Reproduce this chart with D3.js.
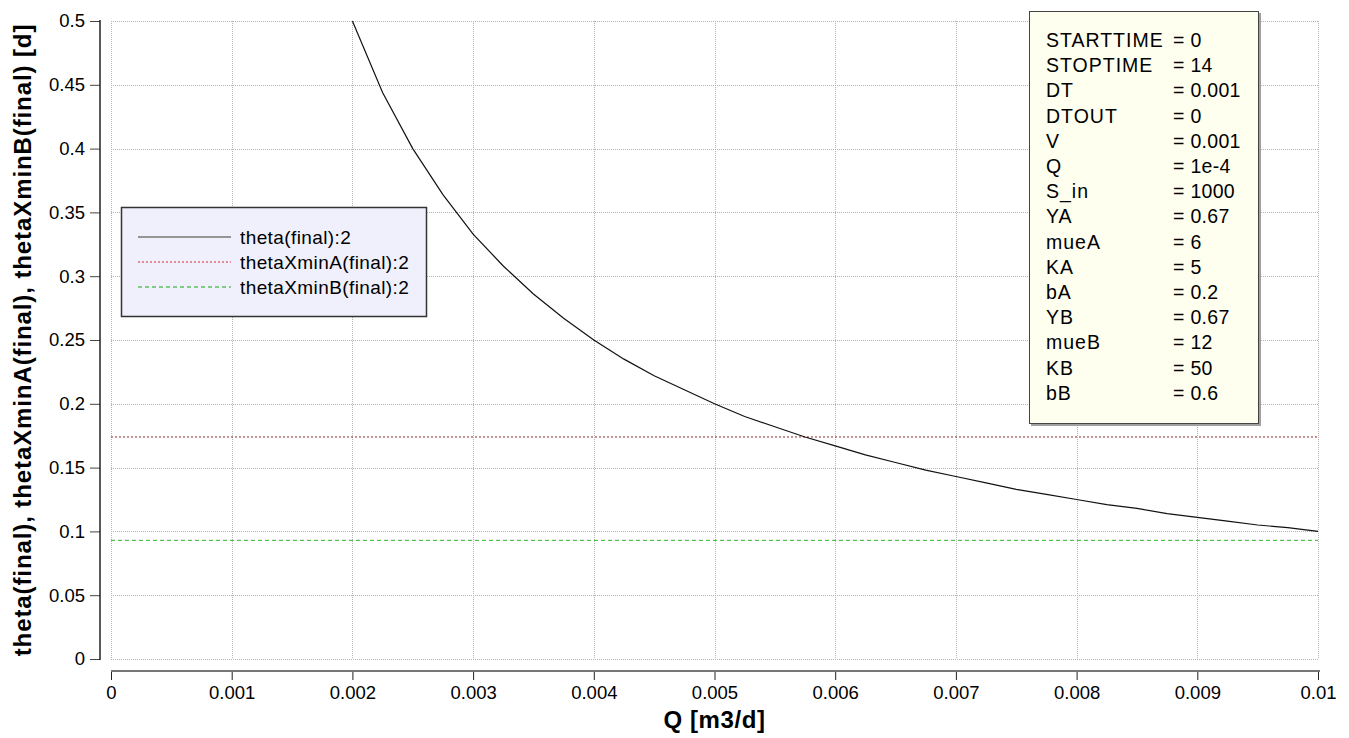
<!DOCTYPE html>
<html>
<head>
<meta charset="utf-8">
<script src="https://cdn.jsdelivr.net/npm/d3@7"></script>
<style>
  body { margin: 0; background: #fff; }
  text { font-family: Arial, "Liberation Sans", sans-serif; }
  .tick text { font-size: 18.5px; fill: #000; }
</style>
</head>
<body>
<div id="chart"></div>
<script>
// Values
const qValues = [0.002, 0.00225, 0.0025, 0.00275, 0.003, 0.00325, 0.0035, 0.00375, 0.004,
  0.00425, 0.0045, 0.00475, 0.005, 0.00525, 0.0055, 0.00575, 0.006, 0.00625, 0.0065,
  0.00675, 0.007, 0.00725, 0.0075, 0.00775, 0.008, 0.00825, 0.0085, 0.00875, 0.009,
  0.00925, 0.0095, 0.00975, 0.01];
const thetaValues = [0.5, 0.444, 0.4, 0.364, 0.333, 0.308, 0.286, 0.267, 0.25,
  0.235, 0.222, 0.211, 0.2, 0.19, 0.182, 0.174, 0.167, 0.16, 0.154,
  0.148, 0.143, 0.138, 0.133, 0.129, 0.125, 0.121, 0.118, 0.114, 0.111,
  0.108, 0.105, 0.103, 0.1];
const thetaXminA = 0.174;
const thetaXminB = 0.093;
const xTicks = [0, 0.001, 0.002, 0.003, 0.004, 0.005, 0.006, 0.007, 0.008, 0.009, 0.01];
const yTicks = [0, 0.05, 0.1, 0.15, 0.2, 0.25, 0.3, 0.35, 0.4, 0.45, 0.5];
const legendLabels = ["theta(final):2", "thetaXminA(final):2", "thetaXminB(final):2"];
const paramNames = ["STARTTIME", "STOPTIME", "DT", "DTOUT", "V", "Q", "S_in", "YA", "mueA", "KA", "bA", "YB", "mueB", "KB", "bB"];
const paramValues = ["0", "14", "0.001", "0", "0.001", "1e-4", "1000", "0.67", "6", "5", "0.2", "0.67", "12", "50", "0.6"];

const W = 1349, H = 738;
const plot = {left: 111, right: 1318, top: 21, bottom: 659};

const svg = d3.select("#chart")
  .append("svg")
    .attr("width", W)
    .attr("height", H);

const x = d3.scaleLinear().domain([0, 0.01]).range([plot.left, plot.right]);
const y = d3.scaleLinear().domain([0, 0.5]).range([plot.bottom, plot.top]);

// Grid
const grid = svg.append("g").attr("stroke", "#b4b4b4").attr("stroke-dasharray", "1,1").attr("shape-rendering", "crispEdges");
grid.selectAll("line.v").data(xTicks).join("line")
  .attr("x1", d => Math.round(x(d)) + 0.5).attr("x2", d => Math.round(x(d)) + 0.5)
  .attr("y1", plot.top).attr("y2", plot.bottom);
grid.selectAll("line.h").data(yTicks).join("line")
  .attr("y1", d => Math.round(y(d)) + 0.5).attr("y2", d => Math.round(y(d)) + 0.5)
  .attr("x1", plot.left).attr("x2", plot.right);

// Y axis
const yAxis = svg.append("g")
  .attr("transform", "translate(100,0)")
  .call(d3.axisLeft(y).tickValues(yTicks).tickSize(10).tickPadding(5).tickFormat(d => String(+d.toFixed(2))));
yAxis.select(".domain").remove();
yAxis.selectAll(".tick line").attr("stroke", "#444");
yAxis.append("line").attr("x1", 0).attr("x2", 0).attr("y1", plot.top - 1).attr("y2", plot.bottom + 1)
  .attr("stroke", "#222").attr("stroke-width", 1.5);

// X axis
const xAxis = svg.append("g")
  .attr("transform", "translate(0,671)")
  .call(d3.axisBottom(x).tickValues(xTicks).tickSize(9).tickPadding(6).tickFormat(d => String(+d.toFixed(3))));
xAxis.select(".domain").remove();
xAxis.selectAll(".tick line").attr("stroke", "#222");
xAxis.append("line").attr("x1", plot.left).attr("x2", plot.right + 2).attr("y1", 0).attr("y2", 0)
  .attr("stroke", "#777").attr("stroke-width", 2);

// Threshold lines
svg.append("line")
  .attr("x1", plot.left).attr("x2", plot.right)
  .attr("y1", y(thetaXminA)).attr("y2", y(thetaXminA))
  .attr("stroke", "#8b2a2a").attr("stroke-dasharray", "2,2").attr("stroke-width", 1);
svg.append("line")
  .attr("x1", plot.left).attr("x2", plot.right)
  .attr("y1", y(thetaXminB)).attr("y2", y(thetaXminB))
  .attr("stroke", "#2cb52c").attr("stroke-dasharray", "4,3").attr("stroke-width", 1);

// Curve
const line = d3.line().x((d, i) => x(qValues[i])).y(d => y(d));
svg.append("path")
  .datum(thetaValues)
  .attr("d", line)
  .attr("fill", "none")
  .attr("stroke", "#111")
  .attr("stroke-width", 1.2);

// Legend
const legend = svg.append("g").attr("transform", "translate(121,207)");
legend.append("rect").attr("x", 0.5).attr("y", 0.5).attr("width", 305).attr("height", 109)
  .attr("fill", "#f0f0fc").attr("stroke", "#333").attr("stroke-width", 1.5);
const legColors = ["#777", "#e06a7a", "#5cbf5c"];
const legDash = [null, "2,2", "4,3"];
legendLabels.forEach((lab, i) => {
  const ly = 30 + i * 25;
  legend.append("line").attr("x1", 17).attr("x2", 110).attr("y1", ly).attr("y2", ly)
    .attr("stroke", legColors[i]).attr("stroke-width", 1.3).attr("stroke-dasharray", legDash[i]);
  legend.append("text").attr("x", 119).attr("y", ly + 7).attr("font-size", 19)
    .attr("letter-spacing", 0.4).text(lab);
});

// Parameter box
const pbox = svg.append("g").attr("transform", "translate(1029,11)");
pbox.append("rect").attr("x", 2).attr("y", 2).attr("width", 230).attr("height", 413).attr("fill", "#a0a0a0");
pbox.append("rect").attr("x", 0.5).attr("y", 0.5).attr("width", 229).attr("height", 412)
  .attr("fill", "#fffff0").attr("stroke", "#444").attr("stroke-width", 1);
paramNames.forEach((n, i) => {
  const py = 36 + i * 25.2;
  pbox.append("text").attr("x", 17).attr("y", py).attr("font-size", 19.5)
    .attr("letter-spacing", 1).text(n);
  pbox.append("text").attr("x", 144).attr("y", py).attr("font-size", 19.5)
    .attr("letter-spacing", 0.3).text("= " + paramValues[i]);
});

// Axis titles
svg.append("text")
  .attr("x", (plot.left + plot.right) / 2).attr("y", 728)
  .attr("text-anchor", "middle").attr("font-weight", "bold").attr("font-size", 24)
  .attr("letter-spacing", 0.6)
  .text("Q [m3/d]");
svg.append("text")
  .attr("transform", `translate(31,${(plot.top + plot.bottom) / 2}) rotate(-90)`)
  .attr("text-anchor", "middle").attr("font-weight", "bold").attr("font-size", 24)
  .attr("letter-spacing", 0.9)
  .text("theta(final), thetaXminA(final), thetaXminB(final) [d]");
</script>
</body>
</html>
